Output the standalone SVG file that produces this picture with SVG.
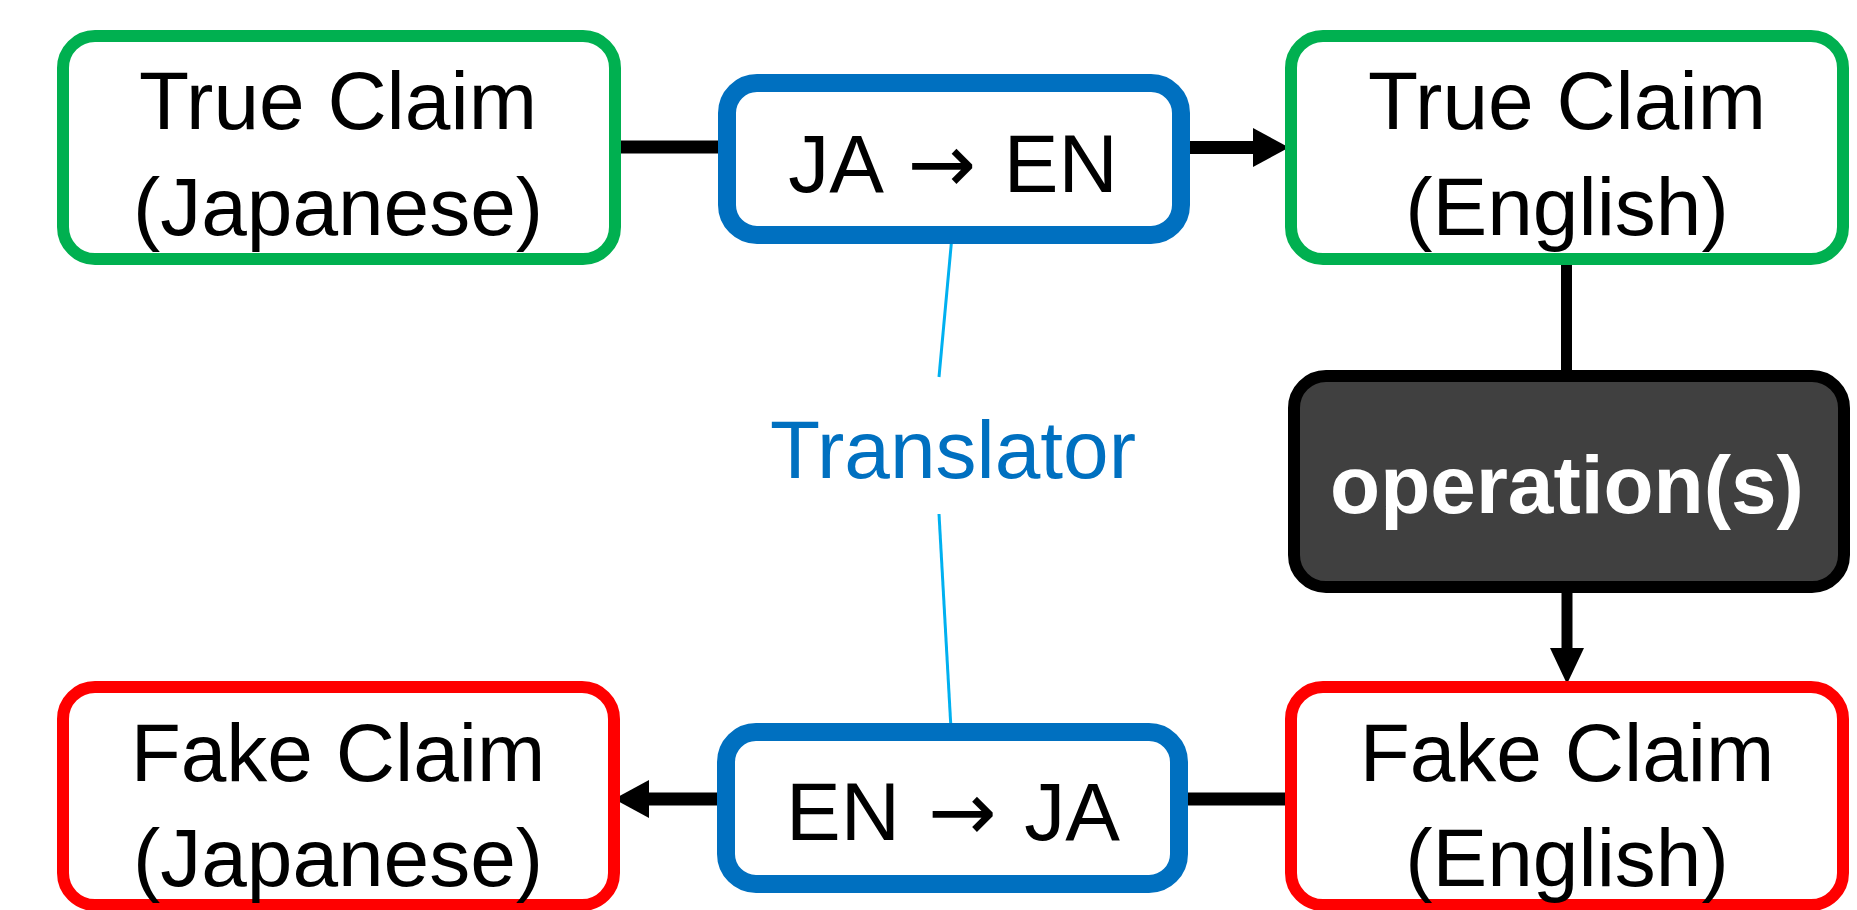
<svg xmlns="http://www.w3.org/2000/svg" width="1857" height="910" viewBox="0 0 1857 910">
<style>
.box{fill:#ffffff;stroke-width:12}
.green{stroke:#00b050}
.red{stroke:#ff0000}
.blue{fill:#ffffff;stroke:#0070c0;stroke-width:18}
.op{fill:#404040;stroke:#000000;stroke-width:12}
.t{font-family:"Liberation Sans",Arial,sans-serif;font-size:82px;fill:#000000;text-anchor:middle}
.tr{word-spacing:5px}
.ar{font-family:"DejaVu Sans",sans-serif;font-weight:normal}
.tw{font-family:"Liberation Sans",Arial,sans-serif;font-size:82px;font-weight:bold;fill:#ffffff;text-anchor:middle}
.tb{font-family:"Liberation Sans",Arial,sans-serif;font-size:82px;fill:#0070c0;text-anchor:middle}
.c{stroke:#000000;fill:none}
.head{fill:#000000;stroke:none}
.thin{stroke:#00b0f0;stroke-width:3;fill:none}
</style>
<rect x="0" y="0" width="1857" height="910" fill="#ffffff"/>
<g id="connectors">
<line class="c" x1="615" y1="147" x2="727" y2="147" stroke-width="13"/>
<line class="c" x1="1181" y1="147.5" x2="1256" y2="147.5" stroke-width="13"/>
<polygon class="head" points="1253,128 1289,147.5 1253,167"/>
<line class="c" x1="1566.5" y1="259" x2="1566.5" y2="376" stroke-width="11"/>
<line class="c" x1="1567" y1="587" x2="1567" y2="651" stroke-width="11"/>
<polygon class="head" points="1550,648 1567,684 1584,648"/>
<line class="c" x1="1179" y1="799" x2="1291" y2="799" stroke-width="13"/>
<line class="c" x1="726" y1="799" x2="646" y2="799" stroke-width="13"/>
<polygon class="head" points="649,780 614,799 649,818"/>
<line class="thin" x1="952" y1="236" x2="939" y2="377"/>
<line class="thin" x1="939" y1="514" x2="951" y2="729"/>
</g>
<g id="true-ja">
<rect class="box green" x="63" y="36" width="552" height="223" rx="32"/>
<text class="t" x="338" y="129">True Claim</text>
<text class="t" x="338" y="235">(Japanese)</text>
</g>
<g id="ja-en">
<rect class="blue" x="727" y="83" width="454" height="152" rx="30"/>
<text class="t tr" x="953" y="192">JA <tspan class="ar">→</tspan> EN</text>
</g>
<g id="true-en">
<rect class="box green" x="1291" y="36" width="552" height="223" rx="32"/>
<text class="t" x="1567" y="129">True Claim</text>
<text class="t" x="1567" y="235">(English)</text>
</g>
<g id="translator">
<text class="tb" x="953" y="478">Translator</text>
</g>
<g id="operations">
<rect class="op" x="1294" y="376" width="550" height="211" rx="32"/>
<text class="tw" x="1567" y="513">operation(s)</text>
</g>
<g id="fake-en">
<rect class="box red" x="1291" y="687" width="552" height="218" rx="32"/>
<text class="t" x="1567" y="781">Fake Claim</text>
<text class="t" x="1567" y="886">(English)</text>
</g>
<g id="en-ja">
<rect class="blue" x="726" y="732" width="453" height="152" rx="30"/>
<text class="t tr" x="953" y="840">EN <tspan class="ar">→</tspan> JA</text>
</g>
<g id="fake-ja">
<rect class="box red" x="63" y="687" width="551" height="218" rx="32"/>
<text class="t" x="338" y="781">Fake Claim</text>
<text class="t" x="338" y="886">(Japanese)</text>
</g>
</svg>
